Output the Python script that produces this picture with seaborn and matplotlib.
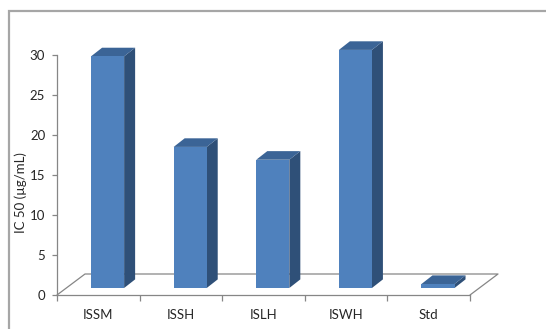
import matplotlib
matplotlib.use("Agg")
import matplotlib.pyplot as plt
import seaborn as sns
import pandas as pd
from matplotlib.patches import Polygon, Rectangle
from matplotlib.lines import Line2D
from matplotlib import transforms

categories = ["ISSM", "ISSH", "ISLH", "ISWH", "Std"]
ic50 = [28.9, 17.6, 16.0, 29.7, 0.5]
yticks = [0, 5, 10, 15, 20, 25, 30]
ylabel = "IC 50 (µg/mL)"

FRONT = "#4F81BD"
TOP = "#3B6496"
SIDE = "#2F5078"
GRID = "#868686"

sns.set_theme(style="white")
plt.rcParams['font.family'] = ['Lato', 'DejaVu Sans']

W, H = 546, 329
fig = plt.figure(figsize=(W / 100, H / 100), dpi=100)
ax_w, ax_h = 413, 240.5
ax = fig.add_axes([57 / W, 34 / H, ax_w / W, ax_h / H])

df = pd.DataFrame({"cat": categories, "val": ic50})
sns.barplot(data=df, x="cat", y="val", color=FRONT, width=0.4,
            saturation=1, ax=ax, zorder=3, linewidth=0)

ax.set_xlim(-0.5, len(categories) - 0.5)
ax.set_ylim(0, 30)
ax.set_yticks(yticks)
ax.set_xlabel("")
ax.set_ylabel(ylabel, fontsize=9.5, color="#262626")
ax.yaxis.label.set_va("center")
ax.yaxis.set_label_coords((21 - 57) / ax_w, (295 - 193) / ax_h)

for s in ["top", "right"]:
    ax.spines[s].set_visible(False)
for s in ["left", "bottom"]:
    ax.spines[s].set_color(GRID)
    ax.spines[s].set_linewidth(0.9)

ax.tick_params(axis="y", which="major", left=True, length=3.5, width=0.9,
               color=GRID, labelsize=9.5, labelcolor="#262626", pad=5)
ax.set_xticks([i - 0.5 for i in range(len(categories) + 1)], minor=True)
ax.tick_params(axis="x", which="minor", bottom=True, length=4, width=0.9, color=GRID)
ax.tick_params(axis="x", which="major", bottom=False, length=0,
               labelsize=9.5, labelcolor="#262626", pad=10)

# floor parallelogram (depth offset in pixels -> axes fraction)
fdx, fdy = 28 / ax_w, 21 / ax_h
floor = [(0, 0), (fdx, fdy), (1 + fdx, fdy), (1, 0)]
ax.add_line(Line2D([p[0] for p in floor], [p[1] for p in floor],
                   transform=ax.transAxes, color=GRID, lw=0.9,
                   zorder=1, clip_on=False))

# bars shifted to mid-depth, with 3D top and side faces
sdx, sdy = 9.3 / ax_w, 7 / ax_h      # bar placement offset
bdx, bdy = 11 / ax_w, 8.6 / ax_h     # bar depth
shift = transforms.Affine2D().translate(sdx, sdy)
data2axes = ax.transData + ax.transAxes.inverted()
fig.canvas.draw()
for p in list(ax.patches):
    x0, w, h = p.get_x(), p.get_width(), p.get_height()
    (ax0, ay0), (ax1, ay1) = data2axes.transform([(x0, 0), (x0 + w, h)])
    ax0 += sdx; ax1 += sdx; ay0 += sdy; ay1 += sdy
    p.set_transform(ax.transData + ax.transAxes.inverted() + shift + ax.transAxes)
    p.set_clip_on(False)
    side = [(ax1, ay0), (ax1 + bdx, ay0 + bdy), (ax1 + bdx, ay1 + bdy), (ax1, ay1)]
    top = [(ax0, ay1), (ax0 + bdx, ay1 + bdy), (ax1 + bdx, ay1 + bdy), (ax1, ay1)]
    ax.add_patch(Polygon(side, closed=True, transform=ax.transAxes,
                         facecolor=SIDE, edgecolor="none", zorder=2.5, clip_on=False))
    ax.add_patch(Polygon(top, closed=True, transform=ax.transAxes,
                         facecolor=TOP, edgecolor="none", zorder=2.5, clip_on=False))

# outer chart frame
fig.add_artist(Rectangle((9 / W, -0.2), 1.2, 1.2 - 11 / H, transform=fig.transFigure,
                         fill=False, edgecolor="#A6A6A6", lw=1.6))

fig.savefig("out.png", dpi=100)
